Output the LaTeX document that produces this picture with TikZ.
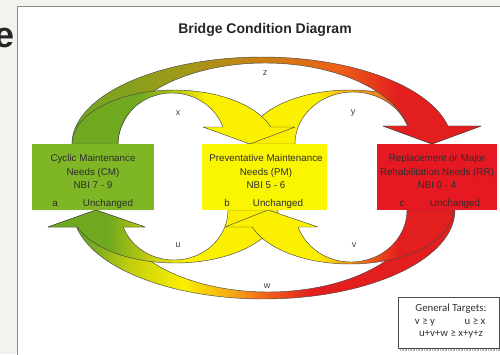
\documentclass[tikz,border=0pt]{standalone}
\usepackage{fontspec}
\setmainfont{Liberation Sans}
\newfontfamily\calib{Carlito}
\definecolor{cG}{RGB}{112,168,32}
\definecolor{cY}{RGB}{250,240,0}
\definecolor{cR}{RGB}{226,30,30}
\definecolor{cOl}{RGB}{155,155,25}
\definecolor{cBr}{RGB}{200,130,20}
\definecolor{cOr}{RGB}{238,96,24}
\definecolor{cYO}{RGB}{245,170,20}
\definecolor{cYG}{RGB}{195,205,15}
\definecolor{boxG}{RGB}{126,182,38}
\definecolor{boxY}{RGB}{250,245,0}
\definecolor{boxR}{RGB}{230,25,35}
\definecolor{marg}{RGB}{244,242,238}
\pgfdeclarehorizontalshading{zsh}{100bp}{color(0bp)=(cG); color(25bp)=(cG); color(37.5bp)=(cOl); color(47.5bp)=(cBr); color(57.5bp)=(cOr); color(65bp)=(cR); color(100bp)=(cR)}
\pgfdeclarehorizontalshading{xsh}{100bp}{color(0bp)=(cG); color(40bp)=(cG); color(50bp)=(cYG); color(55bp)=(cY); color(100bp)=(cY)}
\pgfdeclarehorizontalshading{ysh}{100bp}{color(0bp)=(cY); color(40bp)=(cY); color(47bp)=(cYO); color(58bp)=(cOr); color(66bp)=(cR); color(100bp)=(cR)}
\pgfdeclarehorizontalshading{ush}{100bp}{color(0bp)=(cG); color(38bp)=(cG); color(47bp)=(cYG); color(55bp)=(cY); color(100bp)=(cY)}
\pgfdeclarehorizontalshading{vsh}{100bp}{color(0bp)=(cY); color(45bp)=(cY); color(51bp)=(cYO); color(56.5bp)=(cOr); color(63bp)=(cR); color(100bp)=(cR)}
\pgfdeclarehorizontalshading{wsh}{100bp}{color(0bp)=(cG); color(30bp)=(cG); color(35bp)=(cYG); color(41.5bp)=(cY); color(47.5bp)=(cYO); color(52bp)=(cOr); color(57.5bp)=(cR); color(100bp)=(cR)}
\tikzset{
  arrowband/.style={draw=black!72, line width=0.45pt, line join=round},
  boxnode/.style={rectangle, minimum width=122pt, minimum height=66pt, inner sep=0pt, draw=none},
  btxt/.style={anchor=base, inner sep=0pt, font=\fontsize{9.8}{11}\selectfont, text=black!82},
  lbl/.style={inner sep=0pt, font=\fontsize{9}{10}\selectfont, text=black!75},
  gtxt/.style={inner sep=0pt, font=\calib\fontsize{10.8}{12}\selectfont, text=black!80}
}
\begin{document}
\begin{tikzpicture}[x=1pt,y=-1pt]
\useasboundingbox (0,0) rectangle (500,354);
% background and frame
\fill[marg] (0,0) rectangle (500,354);
\fill[white] (17,6) rectangle (501,355);
\draw[black!45, line width=0.6pt] (17,355) -- (17,6) -- (501,6);
\begin{scope}
\clip (0,0) rectangle (16,354);
\node[anchor=base west, inner sep=0pt, text=black!85, font=\bfseries\fontsize{36}{36}\selectfont] (glyph) at (-6,47) {e};
\end{scope}
% title
\node[inner sep=0pt, font=\bfseries\fontsize{14}{16}\selectfont, text=black!85] (title) at (265,29.5) {Bridge Condition Diagram};
% ---- top arrows: y, z, x ----
\path[arrowband, shading=ysh]
  plot[domain=180:340.53, samples=60] ({350+103*cos(\x)},{144+54*sin(\x)})
  -- (481,126) -- (432,144) -- (383,126)
  -- plot[domain=339.75:180, samples=60] ({353+58*cos(\x)},{144+52*sin(\x)}) -- cycle;
\path[arrowband, shading=zsh]
  plot[domain=180:348.06, samples=80] ({262+190*cos(\x)},{144+87*sin(\x)})
  -- (481,126) -- (432,144) -- (383,126)
  -- plot[domain=347.16:180, samples=80] ({265+147*cos(\x)},{144+81*sin(\x)}) -- cycle;
\path[arrowband, shading=xsh]
  plot[domain=180:341.65, samples=60] ({174+102*cos(\x)},{144+54*sin(\x)})
  -- (295,127) -- (250,144) -- (203,127)
  -- plot[domain=340.53:180, samples=60] ({172+54*cos(\x)},{144+51*sin(\x)}) -- cycle;
% ---- bottom arrows: w, u, v ----
\path[arrowband, shading=wsh]
  plot[domain=0:168.99, samples=80] ({264+191*cos(\x)},{210+89*sin(\x)})
  -- (48,227) -- (96,210) -- (145,227)
  -- plot[domain=168.03:0, samples=80] ({268+150*cos(\x)},{210+82*sin(\x)}) -- cycle;
\path[arrowband, shading=ush]
  plot[domain=0:161.29, samples=60] ({175+103*cos(\x)},{210+53*sin(\x)})
  -- (48,227) -- (96,210) -- (145,227)
  -- plot[domain=160.12:0, samples=60] ({174+54*cos(\x)},{210+50*sin(\x)}) -- cycle;
\path[arrowband, shading=vsh]
  plot[domain=0:161.65, samples=60] ({350+103*cos(\x)},{210+54*sin(\x)})
  -- (225,227) -- (268,210) -- (318,227)
  -- plot[domain=160.92:0, samples=60] ({351+56*cos(\x)},{210+52*sin(\x)}) -- cycle;
% ---- boxes ----
\node[boxnode, fill=boxG] (cm) at (93,177) {};
\node[boxnode, minimum width=125pt, fill=boxY] (pm) at (264.5,177) {};
\node[boxnode, minimum width=120pt, fill=boxR] (rr) at (437,177) {};
% CM text
\node[btxt] (cm1) at (93,161.5) {Cyclic Maintenance};
\node[btxt] (cm2) at (93,175.5) {Needs (CM)};
\node[btxt] (cm3) at (93,188.5) {NBI 7 - 9};
\node[btxt] (cma) at (55,206.5) {a};
\node[btxt] (cmu) at (108,206.5) {Unchanged};
% PM text
\node[btxt] (pm1) at (266,161.5) {Preventative Maintenance};
\node[btxt] (pm2) at (266,175.5) {Needs (PM)};
\node[btxt] (pm3) at (266,188.5) {NBI 5 - 6};
\node[btxt] (pmb) at (227,206.5) {b};
\node[btxt] (pmu) at (278,206.5) {Unchanged};
% RR text
\node[btxt] (rr1) at (437,161.5) {Replacement or Major};
\node[btxt] (rr2) at (437,175.5) {Rehabilitation Needs (RR)};
\node[btxt] (rr3) at (437,188.5) {NBI 0 - 4};
\node[btxt] (rrc) at (402,206.5) {c};
\node[btxt] (rru) at (455,206.5) {Unchanged};
% arrow labels
\node[lbl] (lx) at (178,113) {x};
\node[lbl] (ly) at (353,113) {y};
\node[lbl] (lz) at (265,73) {z};
\node[lbl] (lu) at (178,245) {u};
\node[lbl] (lv) at (354,245) {v};
\node[lbl] (lw) at (267,286) {w};
% general targets
\draw[black!30, line width=1.4pt, dash pattern=on 1pt off 0.6pt] (400,350) -- (501,350);
\node[draw=black!70, line width=0.6pt, fill=white, minimum width=101pt, minimum height=51pt, inner sep=0pt] (gt) at (448.5,322.5) {};
\node[gtxt] (gt1) at (451,309) {General Targets:};
\node[gtxt] (gt2) at (425,322) {v ≥ y};
\node[gtxt] (gt3) at (475,322) {u ≥ x};
\node[gtxt] (gt4) at (451,334) {u+v+w ≥ x+y+z};
\end{tikzpicture}
\end{document}
